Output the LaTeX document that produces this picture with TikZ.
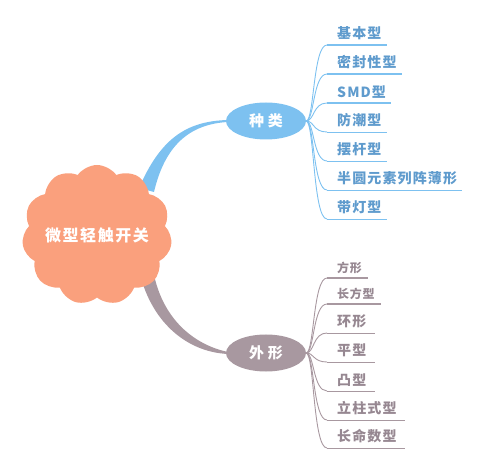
\documentclass[tikz,border=0pt]{standalone}
\usepackage{fontspec}
\setmainfont{Noto Sans CJK SC}
\usetikzlibrary{shapes.symbols,shapes.geometric}
\definecolor{peach}{RGB}{250,160,125}
\definecolor{skyb}{RGB}{125,193,240}
\definecolor{skyt}{RGB}{95,155,205}
\definecolor{mauve}{RGB}{168,152,160}
\definecolor{mauvet}{RGB}{150,135,145}
\tikzset{root/.style={cloud, cloud puffs=11, cloud puff arc=110, fill=peach, draw=none, inner sep=0pt, minimum width=150pt, minimum height=140pt, label={[text=white, font=\fontsize{16}{16}\selectfont\bfseries\addfontfeature{LetterSpace=10}]center:#1}}}
\tikzset{topic/.style={ellipse, draw=none, minimum width=80pt, minimum height=37pt, inner sep=0pt, text=white, font=\fontsize{15}{15}\selectfont\bfseries\addfontfeature{LetterSpace=25}}}
\tikzset{leaf/.style={anchor=south west, inner xsep=0pt, inner ysep=4.5pt, font=\fontsize{14}{14}\selectfont\bfseries\addfontfeature{LetterSpace=8}}}
\tikzset{sleaf/.style={leaf, font=\fontsize{12}{12}\selectfont\bfseries\addfontfeature{LetterSpace=6}}}

\begin{document}
\begin{tikzpicture}[x=1pt,y=-1pt]
  \useasboundingbox (0,0) rectangle (490,470);
  % thick branches from the centre
  \fill[skyb] (139,188) .. controls (160,140) and (185,121) .. (228,120)
    -- (228,122) .. controls (190,124) and (165,145) .. (154,192) -- cycle;
  \fill[mauve] (139,270) .. controls (150,320) and (185,352) .. (228,354)
    -- (228,352) .. controls (195,345) and (162,320) .. (153,270) -- cycle;
  \node[root={微型轻触开关}] (main) at (97,235) {};
  \node[topic, fill=skyb] (kind) at (266,121) {种类};
  \node[topic, fill=mauve] (shape) at (266,353) {外形};
  % kinds
  \foreach \n/\t/\y/\w in {k1/基本型/45/2.6, k2/密封性型/74/2.6, k3/SMD型/103/2.6,
      k4/防潮型/132/0.9, k5/摆杆型/161/0.9, k6/半圆元素列阵薄形/190/0.9, k7/带灯型/219/0.9}{
    \node[leaf, text=skyt] (\n) at (327,\y) {\hspace*{10pt}\t\hspace*{5pt}};
    \draw[skyb, line width=\w pt] (\n.south west) -- (\n.south east);
    \draw[skyb, line width=0.9pt] (kind.east) .. controls +(8,0) and +(-14,0) .. (\n.south west);
  }
  % shapes
  \foreach \n/\t/\y/\w in {w1/方形/278/2.6, w2/长方型/304/2.6}{
    \node[sleaf, text=mauvet] (\n) at (327,\y) {\hspace*{10pt}\t\hspace*{6pt}};
    \draw[mauve, line width=\w pt] (\n.south west) -- (\n.south east);
    \draw[mauve, line width=0.9pt] (shape.east) .. controls +(8,0) and +(-14,0) .. (\n.south west);
  }
  \foreach \n/\t/\y in {w3/环形/333, w4/平型/362, w5/凸型/391, w6/立柱式型/420, w7/长命数型/448}{
    \node[leaf, text=mauvet] (\n) at (327,\y) {\hspace*{10pt}\t\hspace*{8pt}};
    \draw[mauve, line width=0.9pt] (\n.south west) -- (\n.south east);
    \draw[mauve, line width=0.9pt] (shape.east) .. controls +(8,0) and +(-14,0) .. (\n.south west);
  }
\end{tikzpicture}
\end{document}
